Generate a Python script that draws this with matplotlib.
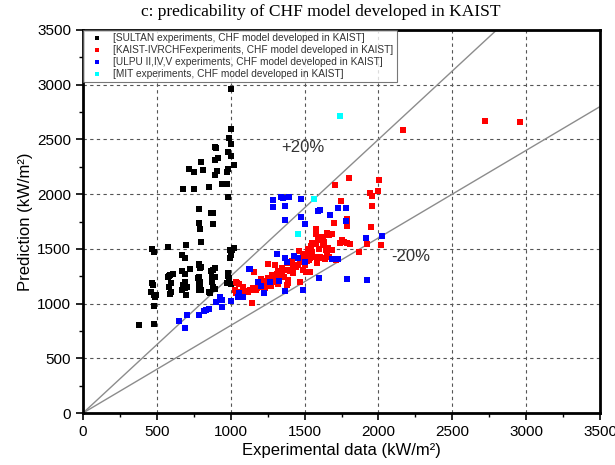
import numpy as np
import matplotlib.pyplot as plt
from matplotlib.ticker import MultipleLocator

# SULTAN experiments (black)
sultan_x = [1002, 1000, 990, 1000, 894, 900, 984, 1004, 914, 896, 799, 1022, 720, 751, 815, 909,
            894, 975, 982, 677, 754, 855, 941, 975, 980, 785, 878, 864, 783, 792, 882, 797, 697,
            575, 467, 480, 670, 693, 995, 1002, 993, 1024, 788, 794, 724, 670, 690, 891, 868, 873,
            873, 781, 794, 589, 573, 596, 584, 596, 587, 679, 690, 672, 697, 784, 797, 790, 878,
            891, 855, 980, 990, 1002, 476, 460, 483, 489, 481, 381, 483, 607, 580, 702, 693, 783,
            792, 783, 860, 882, 894, 982, 977, 465, 494, 1006, 1000, 783, 796]
sultan_y = [2962, 2593, 2511, 2459, 2431, 2420, 2383, 2352, 2328, 2310, 2294, 2267, 2230, 2206, 2221, 2212,
            2178, 2200, 2230, 2045, 2045, 2063, 2090, 2096, 1971, 1862, 1828, 1825, 1740, 1685, 1728, 1563, 1538,
            1520, 1496, 1472, 1444, 1414, 1493, 1469, 1420, 1505, 1359, 1328, 1314, 1298, 1268, 1328, 1298, 1246,
            1200, 1231, 1200, 1261, 1243, 1185, 1155, 1109, 1090, 1170, 1145, 1124, 1079, 1180, 1125, 1150, 1155,
            1133, 1103, 1252, 1231, 1176, 1170, 1103, 1079, 1063, 981, 804, 813, 1268, 1255, 1155, 1200, 1240,
            1186, 1124, 1094, 1307, 1246, 1277, 1186, 1186, 1079, 1490, 1444, 1353, 1332]

# KAIST-IVRCHF experiments (red)
kaist_x = [1575, 1575, 1593, 1589, 1553, 1544, 1616, 1623, 1521, 1537, 1515, 1481, 1458, 1424, 1413, 1390,
           1379, 1424, 1345, 1322, 1300, 1311, 1277, 1254, 1250, 1227, 1205, 1288, 1187, 1153, 1131, 1108,
           1085, 1063, 1040, 1029, 1160, 1146, 1390, 1469, 1537,
           1801, 1706, 2006, 1943, 1955, 2000, 1745, 1959, 1699, 1790, 1948, 1650, 1668, 1684, 1627, 1634,
           1751, 1769, 1785, 1808, 1740, 1925, 2016, 1871, 1661, 1684, 1645, 1650, 1627, 1668, 1713,
           2167, 2722, 2961, 1790, 1785, 1717,
           1465, 1514, 1548, 1571, 1532, 1605, 1638, 1582, 1492, 1510, 1390, 1383, 1036,
           1058, 1085, 1036, 1119, 1142, 1176,
           1200, 1240, 1260, 1300, 1330, 1350, 1400, 1440, 1470, 1500, 1550, 1600, 1580, 1520, 1490, 1360,
           1320, 1270, 1230, 1170]
kaist_y = [1682, 1633, 1612, 1581, 1551, 1530, 1597, 1536, 1444, 1414, 1389, 1414, 1353, 1353, 1389, 1368,
           1307, 1277, 1323, 1298, 1353, 1268, 1261, 1359, 1231, 1207, 1225, 1200, 1170, 1140, 1124, 1115,
           1103, 1109, 1186, 1124, 1292, 1003, 1186, 1200, 1286,
           2145, 2081, 2130, 2014, 1986, 2029, 1941, 1892, 1734, 1764, 1703, 1643, 1627, 1636, 1606, 1566,
           1581, 1566, 1557, 1542, 1551, 1545, 1536, 1469, 1505, 1490, 1490, 1444, 1414, 1429, 1399,
           2584, 2666, 2660, 1773, 1709, 1405,
           1484, 1435, 1444, 1423, 1399, 1429, 1405, 1368, 1307, 1292, 1216, 1170, 1200,
           1179, 1155, 1100, 1109, 1124, 1140,
           1150, 1180, 1210, 1230, 1250, 1280, 1300, 1330, 1380, 1350, 1470, 1500, 1540, 1500, 1450, 1240,
           1180, 1160, 1140, 1120]

# ULPU II,IV,V experiments (blue)
ulpu_x = [1131, 1058, 1085, 1051, 928, 939, 900, 939, 1000, 833, 855, 819, 783, 702, 648, 690,
          1284, 1341, 1356, 1395, 1288, 1368, 1476, 1368, 1476, 1503,
          1315, 1368, 1379, 1431, 1454, 1503, 1600, 1124, 1266, 1327, 1187, 1203, 1225, 1368, 1487,
          1672, 1724, 1781, 1779, 1605, 1916, 2027, 1684, 1724, 1785, 1921, 1594]
ulpu_y = [1313, 1094, 1063, 1058, 1063, 1033, 1015, 972, 1021, 941, 948, 929, 893, 899, 844, 780,
          1947, 1977, 1962, 1977, 1886, 1895, 1953, 1764, 1789, 1724,
          1456, 1420, 1383, 1438, 1420, 1378, 1237, 1316, 1195, 1209, 1195, 1161, 1100, 1115, 1124,
          1810, 1871, 1871, 1755, 1856, 1602, 1618, 1408, 1408, 1228, 1213, 1849]

# MIT experiments (cyan)
mit_x = [1566, 1458, 1738]
mit_y = [1953, 1636, 2715]

plt.rcParams['font.family'] = ['Liberation Sans', 'DejaVu Sans']

fig = plt.figure(figsize=(6.15, 4.65), dpi=100)
ax = fig.add_axes([0.135, 0.1118, 0.8406, 0.8237])

# +/-20 % lines
line_x = np.array([0, 3500])
ax.plot(line_x, line_x * 1.25, color='#8c8c8c', lw=1.0, zorder=2)
ax.plot(line_x, line_x * 0.8, color='#8c8c8c', lw=1.0, zorder=2)

mk = dict(marker='s', s=15, linewidths=0, zorder=3)
ax.scatter(sultan_x, sultan_y, color='black', **mk,
           label='[SULTAN experiments, CHF model developed in KAIST]')
ax.scatter(kaist_x, kaist_y, color='#ff0000', **mk,
           label='[KAIST-IVRCHFexperiments, CHF model developed in KAIST]')
ax.scatter(ulpu_x, ulpu_y, color='#0000ff', **mk,
           label='[ULPU II,IV,V experiments, CHF model developed in KAIST]')
ax.scatter(mit_x, mit_y, color='#00ffff', **mk,
           label='[MIT experiments, CHF model developed in KAIST]')

ax.set_xlim(0, 3500)
ax.set_ylim(0, 3500)
ax.xaxis.set_major_locator(MultipleLocator(500))
ax.yaxis.set_major_locator(MultipleLocator(500))
ax.xaxis.set_minor_locator(MultipleLocator(250))
ax.yaxis.set_minor_locator(MultipleLocator(250))
ax.tick_params(which='major', direction='out', length=5, width=1.2, labelsize=11, colors='black')
ax.tick_params(which='minor', direction='out', length=3, width=1.0)
ax.grid(True, which='major', linestyle=(0, (3, 3)), color='#555555', lw=0.8)
for s in ax.spines.values():
    s.set_linewidth(2)

ax.text(1345, 2430, '+20%', fontsize=12, color='#333333', va='center')
ax.text(2090, 1429, '-20%', fontsize=12, color='#333333', va='center')

ax.set_xlabel('Experimental data (kW/m²)', fontsize=12, labelpad=3)
ax.set_ylabel('Prediction (kW/m²)', fontsize=12, labelpad=3)
fig.text(0.521, 0.975, 'c: predicability of CHF model developed in KAIST',
         ha='center', va='center', fontsize=12.5, family='Liberation Serif')

leg = ax.legend(loc='upper left', fontsize=7.3, frameon=True, fancybox=False,
                borderaxespad=0, handletextpad=0.5, labelspacing=0.2,
                handlelength=2.2, markerscale=0.8, borderpad=0.3)
leg.get_frame().set_edgecolor('#555555')
leg.get_frame().set_linewidth(0.8)
for t in leg.get_texts():
    t.set_color('#333333')

fig.savefig('out.png', dpi=100)
